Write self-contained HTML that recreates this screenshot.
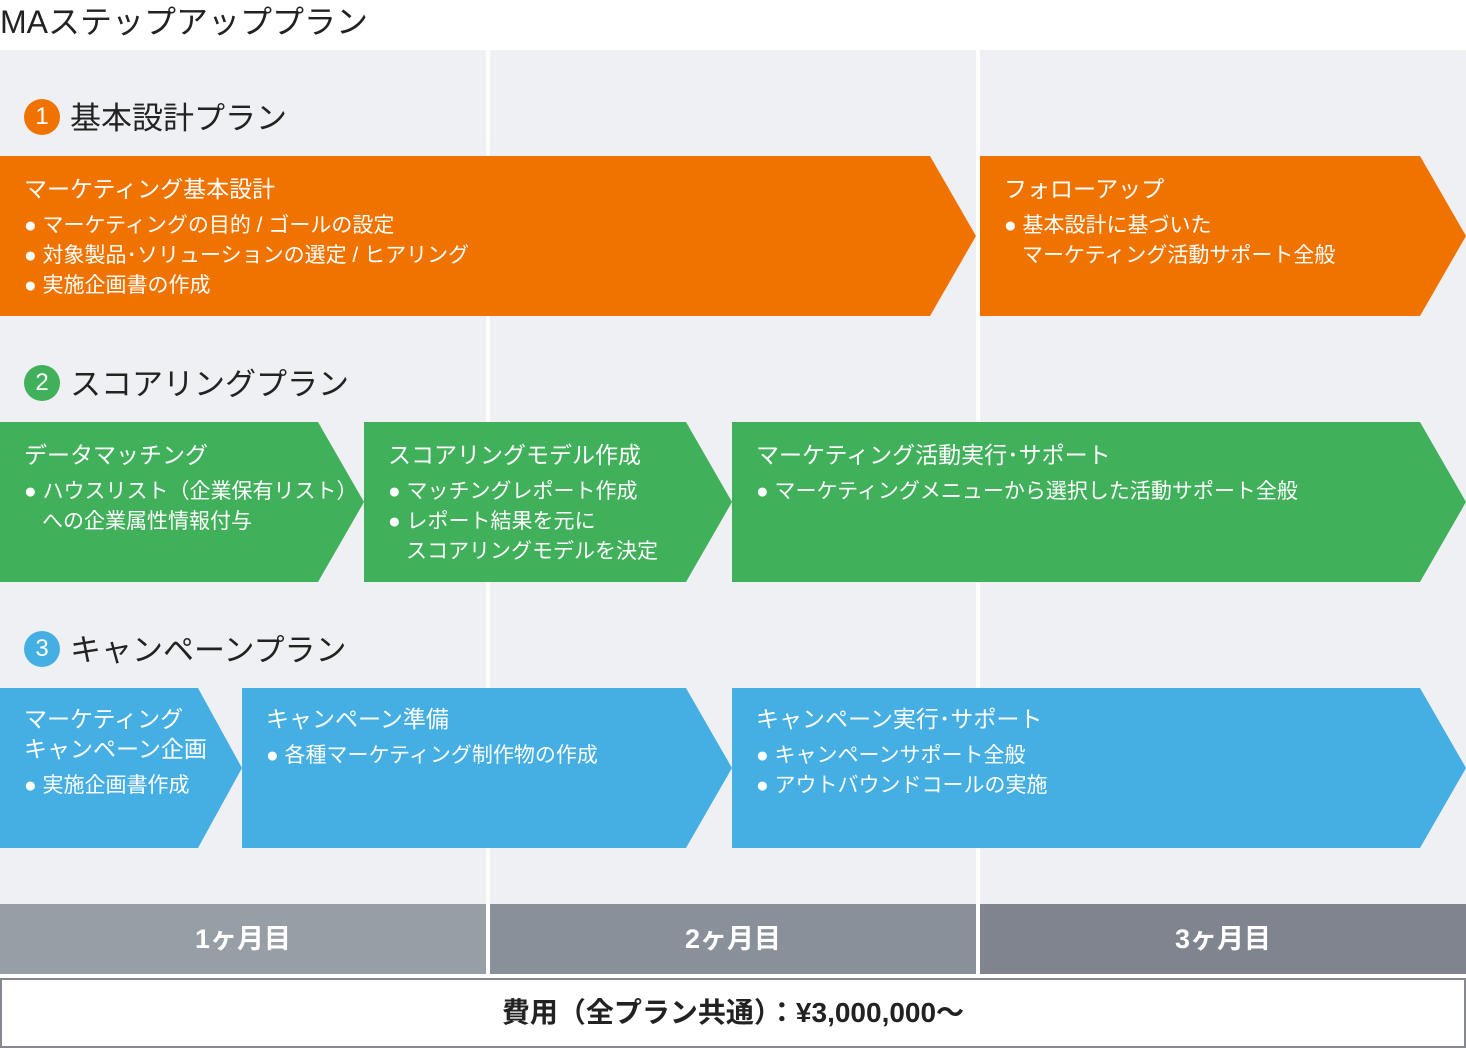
<!DOCTYPE html>
<html><head><meta charset="utf-8"><style>
body{margin:0;width:1466px;height:1048px;position:relative;background:#fff;font-family:"Liberation Sans","Noto Sans CJK JP",sans-serif;overflow:hidden}
.a{position:absolute}
.col{position:absolute;top:50px;height:854px;background:#eff0f4}
.h{position:absolute;font-size:31px;color:#222;left:70px;white-space:nowrap}
.c{position:absolute;left:24px;width:36px;height:36px;border-radius:50%;color:#fff;font-size:24px;text-align:center;line-height:36px}
.t{position:absolute;color:#fff;white-space:nowrap}
.t b{font-weight:normal;font-size:23px;display:block;line-height:30px;margin-bottom:7px}
.t p{margin:0;font-size:21px;line-height:30px;padding-left:18px;text-indent:-18px}
.m{position:absolute;top:904px;height:70px;color:#fff;font-size:27px;text-align:center;line-height:70px;font-weight:bold}
</style></head><body>
<div class="a" style="left:0;top:-3px;font-size:32px;color:#222">MAステップアッププラン</div>
<div class="col" style="left:0;width:486px"></div>
<div class="col" style="left:490px;width:486px"></div>
<div class="col" style="left:980px;width:486px"></div>
<svg class="a" style="left:0;top:0" width="1466" height="1048">
<polygon fill="#f07300" points="0,156 930,156 976,236 930,316 0,316"/>
<polygon fill="#f07300" points="980,156 1420,156 1466,236 1420,316 980,316"/>
<polygon fill="#40b05a" points="0,422 318,422 364,502 318,582 0,582"/>
<polygon fill="#40b05a" points="364,422 686,422 732,502 686,582 364,582"/>
<polygon fill="#40b05a" points="732,422 1420,422 1466,502 1420,582 732,582"/>
<polygon fill="#45afe3" points="0,688 198,688 242,768 198,848 0,848"/>
<polygon fill="#45afe3" points="242,688 686,688 732,768 686,848 242,848"/>
<polygon fill="#45afe3" points="732,688 1420,688 1466,768 1420,848 732,848"/>
</svg>
<div class="c" style="top:99px;background:#f07300">1</div><div class="h" style="top:93px">基本設計プラン</div>
<div class="c" style="top:365px;background:#40b05a">2</div><div class="h" style="top:359px">スコアリングプラン</div>
<div class="c" style="top:631px;background:#45afe3">3</div><div class="h" style="top:625px">キャンペーンプラン</div>

<div class="t" style="left:24px;top:174px"><b>マーケティング基本設計</b><p>● マーケティングの目的 / ゴールの設定</p><p>● 対象製品･ソリューションの選定 / ヒアリング</p><p>● 実施企画書の作成</p></div>
<div class="t" style="left:1004px;top:174px"><b>フォローアップ</b><p>● 基本設計に基づいた<br>マーケティング活動サポート全般</p></div>

<div class="t" style="left:24px;top:440px"><b>データマッチング</b><p>● ハウスリスト（企業保有リスト）<br>への企業属性情報付与</p></div>
<div class="t" style="left:388px;top:440px"><b>スコアリングモデル作成</b><p>● マッチングレポート作成</p><p>● レポート結果を元に<br>スコアリングモデルを決定</p></div>
<div class="t" style="left:756px;top:440px"><b>マーケティング活動実行･サポート</b><p>● マーケティングメニューから選択した活動サポート全般</p></div>

<div class="t" style="left:24px;top:704px"><b>マーケティング<br>キャンペーン企画</b><p>● 実施企画書作成</p></div>
<div class="t" style="left:266px;top:704px"><b>キャンペーン準備</b><p>● 各種マーケティング制作物の作成</p></div>
<div class="t" style="left:756px;top:704px"><b>キャンペーン実行･サポート</b><p>● キャンペーンサポート全般</p><p>● アウトバウンドコールの実施</p></div>

<div class="m" style="left:0;width:486px;background:#979ea6">1ヶ月目</div>
<div class="m" style="left:490px;width:486px;background:#8a9099">2ヶ月目</div>
<div class="m" style="left:980px;width:486px;background:#7f848e">3ヶ月目</div>
<div class="a" style="left:0;top:978px;width:1462px;height:66px;border:2px solid #85898f;text-align:center;line-height:66px;font-size:28px;color:#222;font-weight:bold">費用（全プラン共通）：¥3,000,000～</div>
</body></html>
